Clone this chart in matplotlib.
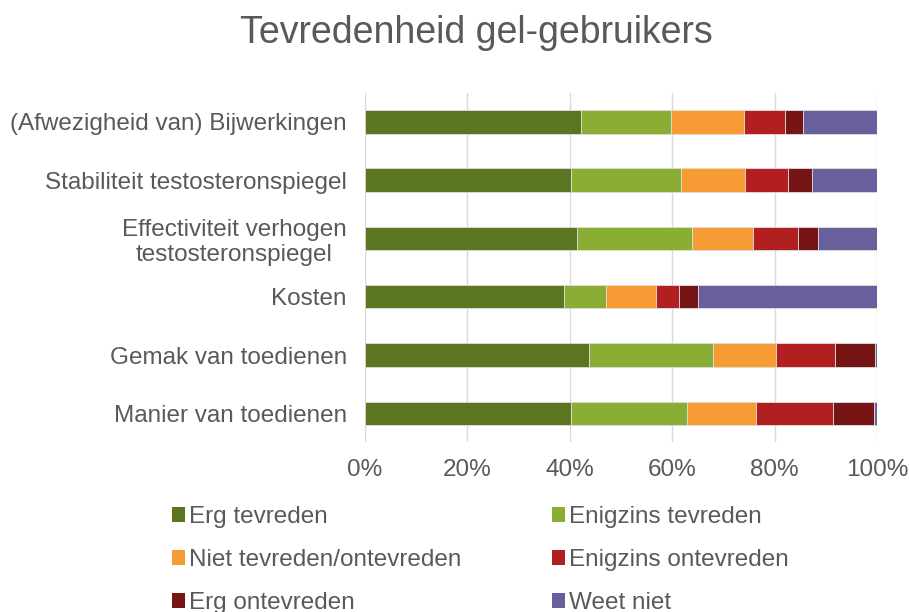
import matplotlib
matplotlib.use("Agg")
import matplotlib.pyplot as plt
from matplotlib.patches import Patch
import numpy as np

plt.rcParams['font.family'] = ['Liberation Sans', 'DejaVu Sans']

categories = ["(Afwezigheid van) Bijwerkingen",
              "Stabiliteit testosteronspiegel",
              "Effectiviteit verhogen\ntestosteronspiegel",
              "Kosten",
              "Gemak van toedienen",
              "Manier van toedienen"]
series_names = ["Erg tevreden", "Enigzins tevreden", "Niet tevreden/ontevreden",
                "Enigzins ontevreden", "Erg ontevreden", "Weet niet"]
erg_tevreden       = [42.2, 40.2, 41.5, 38.8, 43.7, 40.2]
enigzins_tevreden  = [17.5, 21.5, 22.4, 8.3, 24.3, 22.6]
niet_tevreden      = [14.4, 12.5, 11.9, 9.7, 12.3, 13.5]
enigzins_ontevr    = [8.0, 8.5, 8.8, 4.5, 11.5, 15.2]
erg_ontevreden     = [3.5, 4.6, 3.8, 3.7, 7.9, 7.9]
weet_niet          = [14.4, 12.7, 11.6, 35.0, 0.3, 0.6]
colors = ["#5C7521", "#89AE33", "#F79B34", "#B21F20", "#771516", "#68609A"]
xtick_labels = ["0%", "20%", "40%", "60%", "80%", "100%"]

series = [erg_tevreden, enigzins_tevreden, niet_tevreden,
          enigzins_ontevr, erg_ontevreden, weet_niet]

FS = 17.5
TXT = "#595959"

fig = plt.figure(figsize=(9.09, 6.12), dpi=100)
ax = fig.add_axes([0.4015, 0.277, 0.9648 - 0.4015, 0.8485 - 0.277])

y = np.arange(len(categories))
left = np.zeros(len(categories))
handles = []
for name, vals, c in zip(series_names, series, colors):
    v = np.array(vals, dtype=float)
    ax.barh(y, v, left=left, height=0.4, color=c, edgecolor="#dddddd",
            linewidth=0.6, label=name, zorder=3)
    left += v
    handles.append(Patch(facecolor=c, edgecolor='none', label=name))

ax.set_xlim(0, 100)
ax.set_ylim(len(categories) - 0.5, -0.5)
ax.set_xticks([0, 20, 40, 60, 80, 100])
ax.set_xticklabels(xtick_labels)
ax.set_yticks(y)
ax.set_yticklabels(categories, multialignment='center')
ax.tick_params(axis='both', length=0, labelsize=FS, colors=TXT)
ax.tick_params(axis='x', pad=12)
ax.tick_params(axis='y', pad=13)
ax.grid(axis='x', color="#d9d9d9", linewidth=1.0, zorder=0)
for s in ax.spines.values():
    s.set_visible(False)

fig.text(0.524, 1 - 43 / 612, "Tevredenheid gel-gebruikers", ha='center', va='baseline',
         fontsize=27, color=TXT)

order = [0, 2, 4, 1, 3, 5]
leg = fig.legend([handles[i] for i in order], [series_names[i] for i in order],
                 ncol=2, loc='upper left', bbox_to_anchor=(0.189, 0.173),
                 frameon=False, fontsize=FS, handlelength=0.55, handleheight=0.55,
                 handletextpad=0.15, columnspacing=3.74, labelspacing=0.87,
                 borderaxespad=0, borderpad=0)
for t in leg.get_texts():
    t.set_color(TXT)

fig.savefig("out.png", dpi=100)
